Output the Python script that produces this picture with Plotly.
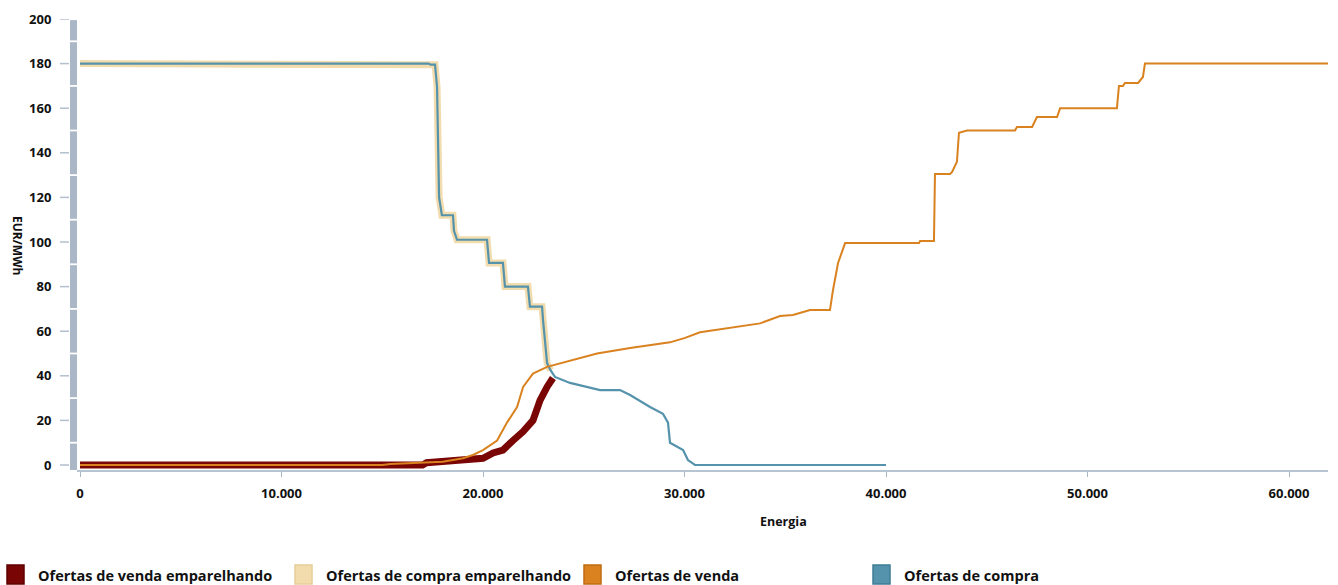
import plotly.graph_objects as go

# ---------------- data ----------------
buy_x = [0, 17300, 17400, 17620, 17720, 17770, 17820, 17960, 18510, 18560, 18710, 20200, 20300,
         20990, 21090, 22230, 22330, 22930, 22980, 23180, 23350, 23570, 24320, 25810, 26800,
         27300, 28290, 28930, 29180, 29280, 29930, 30170, 30520, 40000]
buy_y = [180, 180, 179.5, 179.5, 169.5, 150, 120, 112, 112, 105, 101, 101, 90.6,
         90.6, 80, 80, 71, 71, 65, 45.7, 42.5, 39.5, 36.8, 33.6, 33.6,
         31.4, 26, 23, 19, 10, 6.7, 2.2, 0, 0]

buy_match_x = buy_x[:21]
buy_match_y = buy_y[:21]

sell_x = [0, 15000, 15400, 17000, 18000, 19010, 19500, 20000, 20700, 21190, 21690, 21990, 22480,
          23180, 23970, 25660, 27300, 29280, 30030, 30770, 33750, 34740, 35380, 36230, 37220,
          37370, 37620, 37970, 41640, 41690, 42380, 42430, 43180, 43280, 43520, 43620, 44020,
          46400, 46500, 47250, 47490, 48490, 48640, 51460, 51560, 51760, 51860, 52510, 52750,
          52850, 63000]
sell_y = [0, 0, 0.5, 1, 1.5, 3, 4.5, 6.7, 11, 19, 26, 35, 41,
          44, 46, 50, 52.5, 55, 57, 59.5, 63.5, 66.8, 67.3, 69.5, 69.5,
          78.5, 90.6, 99.5, 99.5, 100.4, 100.4, 130.5, 130.5, 131.4, 136, 149, 150,
          150, 151.6, 151.6, 156, 156, 160, 160, 170, 170, 171.3, 171.3, 174,
          180, 180]

sell_match_x = [0, 17000, 17200, 19010, 20000, 20500, 20990, 21490, 21990, 22480, 22830, 23180, 23470]
sell_match_y = [0, 0, 1, 2.2, 3, 5.4, 6.7, 11, 15, 20, 29, 35, 39]

x_ticks = [0, 10000, 20000, 30000, 40000, 50000, 60000]
x_tick_labels = ["0", "10.000", "20.000", "30.000", "40.000", "50.000", "60.000"]
y_ticks = [0, 20, 40, 60, 80, 100, 120, 140, 160, 180, 200]

series_names = ["Ofertas de venda emparelhando", "Ofertas de compra emparelhando",
                "Ofertas de venda", "Ofertas de compra"]
series_colors = ["#7a0505", "#f2dcae", "#d9821f", "#5592ab"]
legend_edge = ["#5e0000", "#e8cd98", "#c06c10", "#3f7d97"]

# ---------------- layout geometry (pixels) ----------------
W, H = 1338, 585
L, R, T, B = 77, 10, 19, 115
PW, PH = W - L - R, H - T - B
FONT = "Open Sans"


def px_x(p):
    return (p - L) / PW


def px_y(p):
    return (H - B - p) / PH


fig = go.Figure()

fig.add_trace(go.Scatter(x=buy_match_x, y=buy_match_y, mode="lines", name=series_names[1],
                         line=dict(color=series_colors[1], width=7), showlegend=False))
fig.add_trace(go.Scatter(x=sell_match_x, y=sell_match_y, mode="lines", name=series_names[0],
                         line=dict(color=series_colors[0], width=7), showlegend=False))
fig.add_trace(go.Scatter(x=buy_x, y=buy_y, mode="lines", name=series_names[3],
                         line=dict(color=series_colors[3], width=2.2), showlegend=False))
fig.add_trace(go.Scatter(x=sell_x, y=sell_y, mode="lines", name=series_names[2],
                         line=dict(color=series_colors[2], width=2), showlegend=False))

shapes = []
# y-axis segmented bar
bounds = [-2.24] + list(range(10, 200, 20)) + [199.5]
for i in range(len(bounds) - 1):
    y0 = bounds[i] + (0.4 if i > 0 else 0)
    y1 = bounds[i + 1] - (0.4 if i < len(bounds) - 2 else 0)
    shapes.append(dict(type="rect", xref="paper", yref="y", x0=px_x(70), x1=px_x(77),
                       y0=y0, y1=y1, fillcolor="#a9b7c6", line=dict(width=0), layer="above"))
# y tick marks
for v in y_ticks:
    shapes.append(dict(type="line", xref="paper", yref="y", x0=px_x(60), x1=px_x(69),
                       y0=v, y1=v, line=dict(color="#b3bfcc", width=1.5)))

# legend
leg_x = [7, 295, 584, 873]
annotations = []
for i, name in enumerate(series_names):
    shapes.append(dict(type="rect", xref="paper", yref="paper",
                       x0=px_x(leg_x[i]), x1=px_x(leg_x[i] + 17),
                       y0=px_y(584), y1=px_y(565), fillcolor=series_colors[i],
                       line=dict(color=legend_edge[i], width=1.5)))
    annotations.append(dict(xref="paper", yref="paper", x=px_x(leg_x[i] + 29), y=px_y(575),
                            text=name, showarrow=False, xanchor="left", yanchor="middle",
                            font=dict(family=FONT, size=14.5, color="#111111", weight="bold")))

annotations.append(dict(xref="paper", yref="paper", x=px_x(783), y=px_y(521), text="Energia",
                        showarrow=False, xanchor="center", yanchor="middle",
                        font=dict(family=FONT, size=12.5, color="#111111", weight="bold")))
annotations.append(dict(xref="paper", yref="paper", x=px_x(18), y=px_y(245), text="EUR/MWh",
                        showarrow=False, xanchor="center", yanchor="middle", textangle=90,
                        font=dict(family=FONT, size=12, color="#111111", weight="bold")))

fig.update_layout(
    width=W, height=H,
    margin=dict(l=L, r=R, t=T, b=B),
    paper_bgcolor="white", plot_bgcolor="white",
    showlegend=False,
    shapes=shapes,
    annotations=annotations,
    xaxis=dict(range=[-149, 61935], tickvals=x_ticks, ticktext=x_tick_labels,
               showgrid=False, zeroline=False, showline=True, linecolor="#b7c4d2", linewidth=2,
               ticks="outside", ticklen=5, tickcolor="#a9b7c6", tickwidth=1,
               tickfont=dict(family=FONT, size=13, color="#111111", weight="bold"),
               ticklabelstandoff=5),
    yaxis=dict(range=[-2.24, 200], tickvals=y_ticks, showgrid=False, zeroline=False,
               showline=False, ticks="outside", ticklen=22, tickcolor="rgba(0,0,0,0)",
               tickfont=dict(family=FONT, size=13, color="#111111", weight="bold")),
)

fig.write_html("out.html", config={"displayModeBar": False},
               post_script="document.body.style.margin='0';")
